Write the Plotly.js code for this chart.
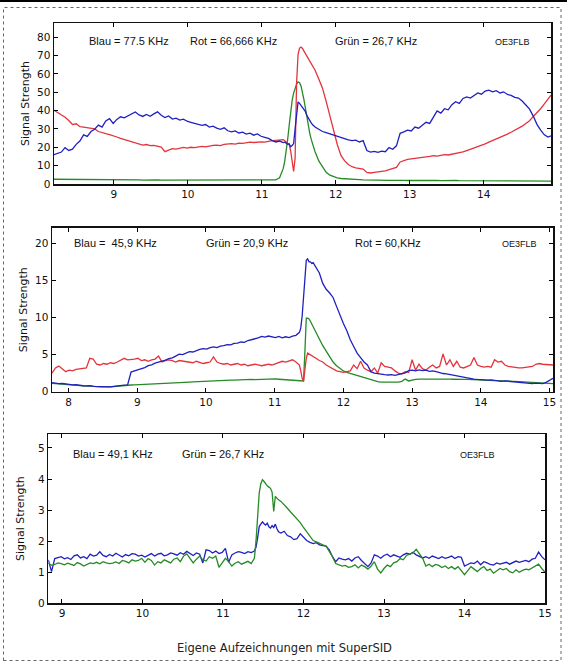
<!DOCTYPE html>
<html><head><meta charset="utf-8">
<script src="https://cdn.plot.ly/plotly-3.0.1.min.js"></script>
<style>html,body{margin:0;padding:0;background:#fff;}#chart{width:567px;height:663px;}</style>
</head><body><div id="chart"></div>
<script>
// ---------- Panel 1 (time in hours UT) ----------
const t1 = [
8.19,8.24,8.29,8.34,8.39,8.44,8.49,8.54,8.59,8.64,
8.69,8.74,8.79,8.84,8.89,8.94,8.99,9.04,9.09,9.14,
9.19,9.24,9.29,9.34,9.39,9.44,9.49,9.54,9.59,9.64,
9.69,9.74,9.79,9.84,9.89,9.94,9.99,10.04,10.09,10.14,
10.19,10.24,10.29,10.34,10.39,10.44,10.49,10.54,10.59,10.64,
10.69,10.74,10.79,10.84,10.89,10.94,10.99,11.04,11.09,11.14,
11.19,11.24,11.29,11.31,11.33,11.35,11.37,11.39,11.41,11.43,
11.45,11.47,11.49,11.51,11.53,11.55,11.57,11.59,11.61,11.63,
11.65,11.67,11.69,11.72,11.77,11.82,11.87,11.92,11.97,12.02,
12.07,12.12,12.17,12.22,12.27,12.32,12.37,12.42,12.47,12.52,
12.57,12.62,12.67,12.72,12.77,12.82,12.87,12.92,12.97,13.02,
13.07,13.12,13.17,13.22,13.27,13.32,13.37,13.42,13.47,13.52,
13.57,13.62,13.67,13.72,13.77,13.82,13.87,13.92,13.97,14.02,
14.07,14.12,14.17,14.22,14.27,14.32,14.37,14.42,14.47,14.52,
14.57,14.62,14.67,14.72,14.77,14.82,14.87,14.91];
const blau1 = [
16.0,16.6,17.4,19.8,18.3,19.0,21.6,23.4,26.8,25.9,
28.6,29.8,32.1,31.0,34.4,35.6,33.0,35.2,36.6,36.0,
37.2,38.4,39.2,37.6,36.8,37.9,36.9,38.2,39.3,37.4,
36.2,37.1,35.4,35.9,34.8,35.3,34.2,33.6,33.0,32.6,
31.9,32.4,31.0,31.5,30.4,29.8,30.6,29.0,28.4,28.9,
27.8,28.2,27.2,27.7,26.6,27.3,26.0,25.4,24.8,23.6,
22.9,23.4,22.6,22.8,22.1,21.6,21.9,20.3,21.0,22.0,
30.0,39.5,44.7,43.9,42.6,41.8,40.6,39.4,37.2,35.6,
34.4,33.2,32.1,31.0,29.8,28.6,28.0,27.3,26.6,26.2,
25.4,24.9,24.0,23.6,23.9,22.9,23.6,18.2,17.4,17.8,
17.2,17.9,17.6,19.8,18.9,20.8,27.6,28.4,29.3,28.9,
31.0,30.4,32.2,33.6,33.0,36.2,39.8,38.6,41.0,40.4,
43.2,44.8,43.9,46.6,47.4,46.8,48.3,49.6,48.9,50.6,
51.1,50.2,50.8,49.6,50.2,48.8,48.3,47.2,46.8,45.2,
43.0,40.8,37.0,32.5,29.4,26.8,25.6,26.2];
const rot1 = [
40.2,39.0,37.8,36.4,34.6,32.4,32.8,31.2,31.0,30.6,
30.4,30.0,28.6,28.2,27.4,26.9,26.4,25.6,24.8,24.2,
23.4,22.6,22.0,21.8,21.2,21.5,20.9,21.0,20.6,20.1,
17.6,18.4,19.3,19.0,19.6,19.9,19.5,20.0,19.8,20.3,
20.5,20.2,20.8,21.0,21.2,20.9,21.6,21.8,22.0,21.7,
22.3,22.1,22.4,22.8,22.6,22.9,23.0,22.8,23.4,23.6,
23.8,24.0,24.2,23.6,23.0,22.4,21.4,18.0,12.8,6.8,
14.0,55.0,70.5,74.0,74.6,73.8,72.4,71.0,69.6,68.2,
66.9,65.7,64.4,62.0,57.2,52.2,45.0,37.0,29.2,21.5,
15.6,12.6,10.6,9.4,8.8,8.4,8.1,6.3,6.0,6.3,
6.5,6.8,7.2,7.8,8.3,9.0,12.0,12.8,13.4,13.7,
13.9,14.0,14.4,14.6,15.0,15.4,15.2,15.6,16.0,15.8,
16.2,16.6,16.9,17.5,18.2,18.9,19.5,20.2,21.0,21.9,
22.8,23.6,24.6,25.4,26.4,27.2,28.2,29.3,30.1,31.5,
33.0,34.5,36.8,38.8,41.0,43.6,46.4,48.4];
const gruen1 = [
2.6,2.6,2.5,2.6,2.5,2.5,2.4,2.5,2.4,2.4,
2.4,2.3,2.4,2.3,2.3,2.4,2.3,2.3,2.2,2.3,
2.2,2.3,2.2,2.2,2.1,2.2,2.2,2.1,2.2,2.1,
2.1,2.1,2.0,2.1,2.1,2.0,2.0,2.1,2.0,2.0,
2.0,2.0,1.9,2.0,2.0,1.9,2.0,1.9,1.9,2.0,
1.9,1.9,2.0,1.9,1.9,1.9,2.0,1.9,2.0,2.1,
2.3,3.4,8.5,12.5,18.0,24.5,32.0,40.0,45.5,49.5,
52.2,54.4,55.6,55.2,53.4,50.0,45.8,41.2,36.0,31.2,
27.2,24.0,21.2,17.6,12.6,9.2,6.4,4.8,3.9,3.3,
3.0,2.8,2.6,2.5,2.4,2.4,2.3,2.2,2.2,2.1,
2.1,2.0,2.1,2.0,2.0,2.1,2.0,2.0,1.9,2.0,
1.9,2.0,1.9,1.9,2.0,1.9,1.9,1.8,1.9,1.9,
1.8,1.9,1.8,1.8,1.9,1.8,1.8,1.8,1.7,1.8,
1.8,1.7,1.8,1.7,1.7,1.8,1.7,1.7,1.7,1.6,
1.7,1.7,1.6,1.7,1.6,1.6,1.7,1.6];

// ---------- Panel 2 ----------
const t2 = [
7.76,7.81,7.86,7.91,7.96,8.01,8.06,8.11,8.16,8.21,
8.26,8.31,8.36,8.41,8.46,8.51,8.56,8.61,8.66,8.71,
8.76,8.81,8.86,8.91,8.96,9.01,9.06,9.11,9.16,9.21,
9.26,9.31,9.36,9.41,9.46,9.51,9.56,9.61,9.66,9.71,
9.76,9.81,9.86,9.91,9.96,10.01,10.06,10.11,10.16,10.21,
10.26,10.31,10.36,10.41,10.46,10.51,10.56,10.61,10.66,10.71,
10.76,10.81,10.86,10.91,10.96,11.01,11.06,11.11,11.16,11.21,
11.26,11.31,11.36,11.38,11.40,11.42,11.44,11.46,11.48,11.50,
11.52,11.54,11.56,11.60,11.65,11.70,11.75,11.80,11.85,11.90,
11.95,12.00,12.05,12.10,12.15,12.20,12.25,12.30,12.35,12.40,
12.45,12.50,12.55,12.60,12.65,12.70,12.75,12.80,12.85,12.90,
12.95,13.00,13.05,13.10,13.15,13.20,13.25,13.30,13.35,13.40,
13.45,13.50,13.55,13.60,13.65,13.70,13.75,13.80,13.85,13.90,
13.95,14.00,14.05,14.10,14.15,14.20,14.25,14.30,14.35,14.40,
14.45,14.50,14.55,14.60,14.65,14.70,14.75,14.80,14.85,14.90,
14.95,15.00,15.05];
const blau2 = [
1.22,1.15,1.10,1.12,1.02,0.98,0.92,0.95,0.85,0.80,
0.78,0.82,0.72,0.70,0.66,0.72,0.68,0.64,0.72,0.80,
0.84,0.88,0.92,2.65,2.80,2.95,3.05,3.25,3.50,3.62,
3.85,3.95,4.05,4.25,4.45,4.55,4.80,5.05,5.00,5.25,
5.40,5.35,5.55,5.70,5.80,5.75,5.95,6.05,5.95,6.15,
6.20,6.35,6.30,6.50,6.55,6.70,6.65,6.90,7.00,7.10,
7.25,7.45,7.35,7.50,7.40,7.30,7.45,7.25,7.40,7.30,
7.50,7.60,8.00,8.60,10.2,12.6,15.8,17.7,17.9,17.5,
17.5,17.3,17.4,16.8,16.0,14.6,13.8,13.3,12.7,11.5,
10.3,9.2,8.2,7.0,6.1,5.2,4.6,4.0,3.6,2.7,
2.5,2.4,2.35,2.3,2.25,2.3,2.2,2.35,2.4,2.55,
2.85,2.9,2.8,2.95,2.85,2.9,2.75,2.8,2.7,2.55,
2.45,2.4,2.3,2.2,2.1,2.0,1.9,1.8,1.75,1.7,
1.65,1.6,1.6,1.55,1.6,1.5,1.45,1.4,1.45,1.4,
1.35,1.4,1.3,1.25,1.2,1.15,1.1,1.15,1.1,1.1,
1.25,1.5,1.8];
const rot2 = [
2.5,3.2,3.45,3.1,2.7,2.9,2.8,3.0,3.1,3.2,
3.2,4.5,4.4,3.7,3.6,3.8,3.7,3.9,3.8,4.0,
4.2,4.5,4.3,4.3,4.4,4.5,4.2,4.3,4.1,4.3,
4.4,4.8,4.0,4.2,4.3,4.2,4.0,4.2,4.1,4.0,
4.0,3.9,4.1,3.9,3.8,3.9,4.0,4.7,4.0,3.8,
3.7,3.8,3.6,3.7,3.8,3.6,3.7,3.5,3.6,3.7,
3.6,3.5,3.6,3.7,3.6,3.8,3.9,4.1,4.0,4.2,
4.3,4.0,3.6,2.8,1.8,1.4,3.0,4.5,5.2,5.1,
4.9,4.8,4.7,4.5,4.2,4.0,3.6,3.3,3.0,2.8,
2.7,2.6,2.7,2.8,3.6,3.1,4.1,3.2,2.9,2.7,
3.2,2.5,3.9,3.4,3.3,3.2,2.8,2.5,2.4,2.7,
2.6,4.3,2.9,3.7,3.1,2.9,3.3,3.6,3.2,3.4,
5.1,3.6,4.3,3.4,4.1,3.3,3.2,3.4,3.6,4.6,
3.6,3.4,3.3,3.4,3.3,4.3,4.0,4.1,3.6,3.4,
3.3,3.3,3.2,3.2,3.3,3.3,3.4,3.7,3.8,3.7,
3.7,3.6,3.6];
const gruen2 = [
1.12,1.08,1.04,1.05,0.98,0.94,0.90,0.90,0.82,0.78,
0.76,0.78,0.70,0.68,0.66,0.70,0.66,0.64,0.70,0.76,
0.80,0.84,0.88,0.90,0.92,0.95,0.98,1.00,1.02,1.05,
1.05,1.08,1.10,1.12,1.15,1.15,1.20,1.22,1.25,1.28,
1.30,1.32,1.35,1.35,1.40,1.38,1.42,1.45,1.45,1.48,
1.50,1.52,1.55,1.55,1.58,1.60,1.58,1.62,1.65,1.62,
1.65,1.68,1.70,1.68,1.70,1.72,1.68,1.65,1.62,1.60,
1.62,1.60,1.58,1.55,1.50,1.45,5.4,9.9,9.9,9.8,
9.5,9.1,8.8,8.1,7.1,6.2,5.4,4.6,4.0,3.5,
3.1,2.8,2.6,2.45,2.3,2.2,2.05,1.9,1.7,1.55,
1.4,1.35,1.3,1.3,1.3,1.28,1.3,1.3,1.4,1.7,
1.45,1.6,1.65,1.7,1.68,1.7,1.72,1.7,1.7,1.72,
1.7,1.72,1.7,1.68,1.7,1.68,1.65,1.65,1.62,1.6,
1.6,1.58,1.55,1.55,1.52,1.5,1.5,1.45,1.45,1.42,
1.4,1.38,1.35,1.3,1.28,1.25,1.2,1.18,1.15,1.12,
1.1,1.1,1.08];

// ---------- Panel 3 ----------
const t3 = [
8.83,8.87,8.91,8.95,8.99,9.03,9.07,9.11,9.15,9.19,
9.23,9.27,9.31,9.35,9.39,9.43,9.47,9.51,9.55,9.59,
9.63,9.67,9.71,9.75,9.79,9.83,9.87,9.91,9.95,9.99,
10.03,10.07,10.11,10.15,10.19,10.23,10.27,10.31,10.35,10.39,
10.43,10.47,10.51,10.55,10.59,10.63,10.67,10.71,10.75,10.79,
10.83,10.87,10.91,10.95,10.99,11.03,11.07,11.11,11.15,11.19,
11.23,11.27,11.31,11.35,11.39,11.41,11.43,11.45,11.47,11.49,
11.51,11.53,11.55,11.57,11.59,11.61,11.63,11.65,11.67,11.69,
11.72,11.76,11.80,11.84,11.88,11.92,11.96,12.00,12.04,12.08,
12.12,12.16,12.20,12.24,12.28,12.32,12.36,12.40,12.44,12.48,
12.52,12.56,12.60,12.64,12.68,12.72,12.76,12.80,12.84,12.88,
12.92,12.96,13.00,13.04,13.08,13.12,13.16,13.20,13.24,13.28,
13.32,13.36,13.40,13.44,13.48,13.52,13.56,13.60,13.64,13.68,
13.72,13.76,13.80,13.84,13.88,13.92,13.96,14.00,14.04,14.08,
14.12,14.16,14.20,14.24,14.28,14.32,14.36,14.40,14.44,14.48,
14.52,14.56,14.60,14.64,14.68,14.72,14.76,14.80,14.84,14.88,
14.92,14.96,15.00];
const blau3 = [
1.40,1.02,1.44,1.48,1.50,1.43,1.47,1.41,1.53,1.56,
1.46,1.50,1.44,1.58,1.52,1.55,1.66,1.54,1.50,1.57,
1.52,1.61,1.55,1.49,1.57,1.53,1.60,1.58,1.52,1.55,
1.49,1.54,1.60,1.52,1.58,1.61,1.53,1.56,1.62,1.59,
1.55,1.63,1.58,1.67,1.60,1.54,1.62,1.58,1.30,1.72,
1.70,1.62,1.68,1.60,1.64,1.77,1.32,1.56,1.62,1.66,
1.64,1.60,1.66,1.63,1.68,1.80,2.10,2.47,2.55,2.62,
2.56,2.52,2.58,2.46,2.42,2.50,2.44,2.55,2.40,2.30,
2.26,2.32,2.18,2.14,2.05,2.08,2.24,2.14,2.02,1.96,
1.92,1.95,1.88,1.86,1.84,1.72,1.50,1.34,1.46,1.42,
1.40,1.44,1.36,1.46,1.50,1.38,1.28,1.18,1.30,1.56,
1.52,1.45,1.54,1.58,1.50,1.56,1.52,1.48,1.56,1.61,
1.58,1.64,1.56,1.52,1.46,1.50,1.45,1.52,1.48,1.44,
1.50,1.45,1.48,1.52,1.44,1.50,1.48,1.20,1.25,1.30,
1.28,1.36,1.24,1.34,1.30,1.25,1.23,1.30,1.26,1.29,
1.32,1.26,1.30,1.36,1.32,1.35,1.38,1.34,1.42,1.45,
1.65,1.50,1.40];
const gruen3 = [
1.29,1.22,1.25,1.30,1.28,1.24,1.29,1.26,1.22,1.31,
1.27,1.20,1.26,1.30,1.28,1.32,1.27,1.34,1.30,1.28,
1.29,1.33,1.28,1.38,1.35,1.30,1.40,1.36,1.38,1.45,
1.32,1.44,1.38,1.23,1.34,1.30,1.40,1.36,1.30,1.42,
1.46,1.34,1.52,1.59,1.44,1.30,1.42,1.52,1.40,1.36,
1.50,1.45,1.52,1.16,1.30,1.45,1.34,1.20,1.29,1.34,
1.26,1.30,1.35,1.28,1.45,2.00,2.90,3.55,3.85,3.98,
3.92,3.84,3.78,3.74,3.70,3.58,2.96,3.44,3.38,3.33,
3.28,3.18,3.06,2.94,2.82,2.72,2.60,2.44,2.30,2.12,
2.02,1.98,1.92,1.88,1.84,1.68,1.50,1.28,1.24,1.20,
1.22,1.16,1.18,1.24,1.14,1.23,1.18,1.10,1.20,1.34,
1.10,0.98,1.12,1.23,1.18,1.30,1.34,1.44,1.40,1.54,
1.58,1.62,1.74,1.60,1.45,1.20,1.26,1.18,1.25,1.22,
1.15,1.20,1.12,1.18,1.10,1.18,1.05,0.92,1.05,1.18,
1.10,1.02,1.12,1.18,1.06,1.10,0.97,1.04,1.12,1.08,
1.12,1.02,0.98,1.08,1.00,1.06,1.10,1.08,1.14,1.18,
1.26,1.12,1.00];

const ticks1x = [9,10,11,12,13,14];
const ticks2x = [8,9,10,11,12,13,14,15];
const ticks3x = [9,10,11,12,13,14,15];
const labels1 = ["Blau = 77.5 KHz","Rot = 66,666 KHz","Grün = 26,7 KHz","OE3FLB"];
const labels2 = ["Blau =  45,9 KHz","Grün = 20,9 KHz","Rot = 60,KHz","OE3FLB"];
const labels3 = ["Blau = 49,1 KHz","Grün = 26,7 KHz","OE3FLB"];
const yTitle = "Signal Strength";
const caption = "Eigene Aufzeichnungen mit SuperSID";

// ---------- styling / layout ----------
const W = 567, H = 663;
const fx = p => p / W, fy = p => 1 - p / H;
const BLUE = "#2020c0", RED = "#e3343c", GREEN = "#268a26";
const FONT = "Liberation Sans, Arial, sans-serif";
const AXFONT = "DejaVu Sans, Verdana, sans-serif";

function line(x, y, color, ax) {
  return {x: x, y: y, type: "scatter", mode: "lines", xaxis: "x" + ax, yaxis: "y" + ax,
          line: {color: color, width: 1.3}, hoverinfo: "skip"};
}
const data = [
  line(t1, gruen1, GREEN, ""), line(t1, rot1, RED, ""), line(t1, blau1, BLUE, ""),
  line(t2, gruen2, GREEN, "2"), line(t2, rot2, RED, "2"), line(t2, blau2, BLUE, "2"),
  line(t3, blau3, BLUE, "3"), line(t3, gruen3, GREEN, "3")
];

function xax(domain, range, tv, anchor) {
  return {domain: domain, range: range, tickvals: tv, anchor: anchor, ticks: "inside", ticklen: 4, tickcolor: "#000",
          showline: true, linecolor: "#111", linewidth: 1.5, mirror: "ticks", showgrid: false,
          zeroline: false, tickfont: {family: AXFONT, size: 10.5, color: "#111"}, fixedrange: true};
}
function yax(domain, range, dtick, standoff, anchor) {
  return {domain: domain, range: range, dtick: dtick, tick0: 0, anchor: anchor, ticks: "inside", ticklen: 4, tickcolor: "#000",
          showline: true, linecolor: "#111", linewidth: 1.5, mirror: "ticks", showgrid: false,
          zeroline: false, tickfont: {family: AXFONT, size: 10.5, color: "#111"}, fixedrange: true,
          title: {text: yTitle, font: {family: AXFONT, size: 11, color: "#111"}, standoff: standoff}};
}

function ann(text, x, y, size) {
  return {text: text, x: fx(x), y: fy(y), xref: "paper", yref: "paper", xanchor: "left", yanchor: "middle",
          showarrow: false, font: {family: FONT, size: size || 11, color: "#111"}};
}
const annotations = [
  ann(labels1[0], 87, 41), ann(labels1[1], 188, 41), ann(labels1[2], 333, 41), ann(labels1[3], 493, 42, 9),
  ann(labels2[0], 72, 243), ann(labels2[1], 204, 243), ann(labels2[2], 353, 243), ann(labels2[3], 500, 244, 9),
  ann(labels3[0], 71, 454), ann(labels3[1], 180, 454), ann(labels3[2], 458, 455, 9),
  {text: caption, x: fx(284), y: fy(648), xref: "paper", yref: "paper", xanchor: "center", yanchor: "middle",
   showarrow: false, font: {family: "DejaVu Sans, Verdana, sans-serif", size: 11.5, color: "#222"}}
];

const shapes = [
  {type: "rect", xref: "paper", yref: "paper", x0: 0, x1: 1, y0: fy(2), y1: 1,
   fillcolor: "#000", line: {width: 0}},
  {type: "rect", xref: "paper", yref: "paper", x0: fx(3.5), x1: fx(561), y0: fy(660.5), y1: fy(7.5),
   line: {color: "#666", width: 1, dash: "dot"}}
];

const layout = {
  width: W, height: H, margin: {l: 0, r: 0, t: 0, b: 0}, paper_bgcolor: "#fff", plot_bgcolor: "#fff",
  showlegend: false, hovermode: false,
  xaxis: xax([fx(54), fx(551)], [8.19, 14.91], ticks1x, "y"),
  yaxis: yax([fy(184), fy(23)], [0, 87.7], 10, 5, "x"),
  xaxis2: xax([fx(52), fx(553)], [7.76, 15.05], ticks2x, "y2"),
  yaxis2: yax([fy(391.7), fy(227.7)], [0, 22.1], 5, 5, "x2"),
  xaxis3: xax([fx(48.3), fx(545)], [8.83, 15.0], ticks3x, "y3"),
  yaxis3: yax([fy(603.3), fy(434)], [0, 5.45], 1, 11, "x3"),
  annotations: annotations, shapes: shapes
};

Plotly.newPlot("chart", data, layout, {staticPlot: true, displayModeBar: false});
</script></body></html>
